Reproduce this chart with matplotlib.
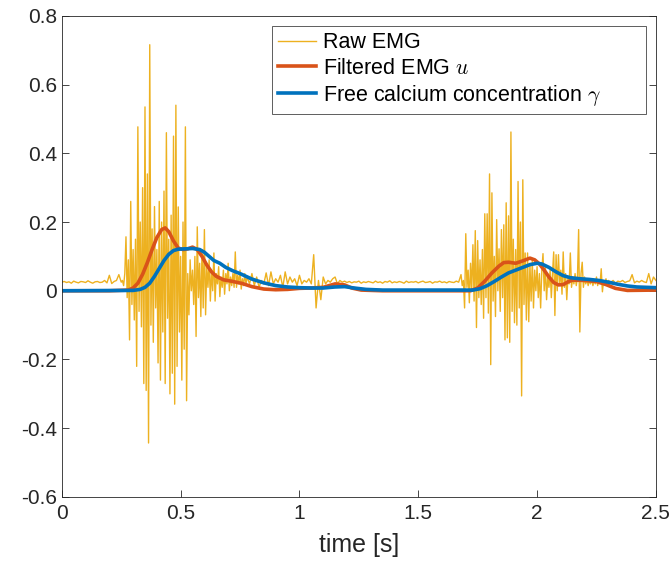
import numpy as np
import matplotlib
matplotlib.use('Agg')
import matplotlib.pyplot as plt

plt.rcParams['font.family'] = ['Liberation Sans', 'DejaVu Sans']
plt.rcParams['axes.unicode_minus'] = False
plt.rcParams['mathtext.fontset'] = 'cm'

# Raw EMG: quiet start, 0.00 .. 0.24 s (step 0.01)
raw_t0 = np.arange(25) * 0.01
raw_v0 = [0.025, 0.027, 0.024, 0.026, 0.022, 0.028, 0.025, 0.023, 0.027, 0.026,
          0.024, 0.029, 0.025, 0.022, 0.026, 0.027, 0.024, 0.025, 0.030, 0.023,
          0.045, 0.021, 0.027, 0.030, 0.047]

# first burst, 0.25 .. 0.78 s (step 0.005)
raw_t1 = 0.25 + np.arange(107) * 0.005
raw_v1 = [0.025, 0.030, 0.015, 0.050, 0.157, -0.020, 0.090, -0.143, 0.260, -0.040,
          0.120, -0.085, 0.150, -0.220, 0.477, -0.060, 0.200, -0.105, 0.300, -0.270,
          0.535, -0.290, 0.340, -0.443, 0.716, -0.100, 0.180, -0.150, 0.245, -0.050,
          0.120, -0.210, 0.260, -0.260, 0.200, -0.120, 0.290, -0.270, 0.460, -0.080,
          0.150, -0.300, 0.220, -0.240, 0.450, -0.330, 0.540, -0.220, 0.244, -0.120,
          0.100, -0.260, 0.200, -0.170, 0.477, -0.320, 0.050, -0.070, 0.090, 0.000,
          0.060, -0.040, 0.100, -0.133, 0.186, -0.020, 0.080, -0.075, 0.120, -0.050,
          0.178, -0.070, 0.070, 0.010, 0.090, -0.030, 0.060, 0.000, 0.110, -0.030,
          0.050, 0.020, 0.070, -0.017, 0.040, 0.010, 0.060, -0.010, 0.050, 0.020,
          0.080, 0.000, 0.040, 0.015, 0.050, 0.010, 0.113, 0.010, 0.045, 0.020,
          0.060, 0.005, 0.035, 0.015, 0.050, 0.020, 0.040]

# between bursts, 0.79 .. 1.67 s (step 0.01)
raw_t2 = 0.79 + np.arange(89) * 0.01
raw_v2 = [0.020, 0.050, 0.015, 0.040, 0.010, 0.030, 0.020, 0.052, 0.015, 0.055,
          0.020, 0.035, 0.025, 0.045, 0.010, 0.055, 0.020, 0.040, 0.025, 0.035,
          0.015, 0.045, 0.020, 0.030, 0.025, 0.035, 0.020, 0.105, -0.050, 0.030,
          -0.026, 0.040, 0.020, 0.030, 0.025, 0.035, 0.040, 0.020, 0.030, 0.025,
          0.028, 0.024, 0.027, 0.023, 0.026, 0.025, 0.028, 0.022, 0.026, 0.024,
          0.027, 0.025, 0.023, 0.028, 0.024, 0.026, 0.022, 0.027, 0.025, 0.029,
          0.023, 0.026, 0.024, 0.027, 0.025, 0.022, 0.028, 0.024, 0.026, 0.025,
          0.027, 0.023, 0.026, 0.028, 0.024, 0.025, 0.027, 0.022, 0.026, 0.025,
          0.028, 0.024, 0.026, 0.023, 0.027, 0.025, 0.024, 0.028, 0.025]

# second burst, 1.68 .. 2.30 s (step 0.005)
raw_t3 = 1.68 + np.arange(125) * 0.005
raw_v3 = [0.047, 0.015, 0.030, -0.050, 0.166, 0.010, 0.060, -0.035, 0.080, 0.000,
          0.134, -0.030, 0.175, -0.107, 0.146, -0.020, 0.090, -0.040, 0.120, -0.080,
          0.224, -0.020, 0.224, -0.065, 0.340, -0.215, 0.285, -0.030, 0.100, -0.075,
          0.207, 0.000, 0.122, -0.060, 0.178, -0.020, 0.192, -0.143, 0.256, -0.137,
          0.218, -0.150, 0.462, -0.060, 0.150, -0.093, 0.120, -0.100, 0.318, -0.050,
          0.200, -0.306, 0.323, -0.040, 0.110, -0.085, 0.110, -0.090, 0.080, -0.030,
          0.090, -0.050, 0.060, 0.000, 0.070, -0.020, 0.050, -0.050, 0.060, 0.108,
          0.000, 0.070, -0.026, 0.040, 0.010, 0.060, -0.020, 0.050, 0.113, -0.072,
          0.105, 0.000, 0.105, 0.020, 0.060, -0.010, 0.113, 0.010, 0.050, -0.026,
          0.040, 0.020, 0.110, 0.010, 0.040, 0.020, 0.050, 0.015, 0.040, 0.178,
          -0.120, 0.050, 0.083, 0.010, 0.040, 0.020, 0.035, 0.015, 0.030, 0.020,
          0.035, 0.015, 0.030, 0.020, 0.040, 0.015, 0.030, 0.020, 0.064, -0.003,
          0.030, 0.020, 0.035, 0.020, 0.030]

# tail, 2.31 .. 2.50 s (step 0.01)
raw_t4 = 2.31 + np.arange(20) * 0.01
raw_v4 = [0.025, 0.030, 0.022, 0.028, 0.026, 0.030, 0.024, 0.027, 0.029, 0.047,
          0.023, 0.028, 0.025, 0.030, 0.026, 0.024, 0.050, 0.020, 0.040, 0.030]

# filtered EMG u
u_t = [0.00, 0.20, 0.28, 0.30, 0.32, 0.34, 0.36, 0.38, 0.40, 0.42, 0.435, 0.45,
       0.47, 0.49, 0.51, 0.53, 0.55, 0.57, 0.59, 0.61, 0.63, 0.65, 0.68, 0.72,
       0.76, 0.80, 0.85, 0.90, 0.95, 1.00, 1.05, 1.10, 1.15, 1.19, 1.22, 1.26,
       1.35, 1.72, 1.75, 1.78, 1.81, 1.84, 1.86, 1.88, 1.91, 1.94, 1.97, 1.99,
       2.01, 2.03, 2.05, 2.07, 2.09, 2.11, 2.13, 2.15, 2.20, 2.25, 2.29, 2.33,
       2.38, 2.50]
u_v = [0.000, 0.000, 0.002, 0.008, 0.022, 0.048, 0.082, 0.120, 0.155, 0.178, 0.183,
       0.172, 0.145, 0.124, 0.120, 0.122, 0.127, 0.120, 0.100, 0.075, 0.055, 0.042,
       0.032, 0.027, 0.021, 0.012, 0.005, 0.003, 0.004, 0.007, 0.008, 0.010, 0.020,
       0.017, 0.008, 0.002, 0.000, 0.000, 0.008, 0.028, 0.052, 0.072, 0.082, 0.083,
       0.080, 0.087, 0.095, 0.090, 0.078, 0.060, 0.040, 0.024, 0.017, 0.018, 0.026,
       0.031, 0.030, 0.027, 0.018, 0.007, 0.001, 0.002]

# free calcium concentration gamma
g_t = [0.00, 0.30, 0.33, 0.35, 0.37, 0.39, 0.41, 0.43, 0.45, 0.47, 0.49, 0.52,
       0.55, 0.58, 0.60, 0.62, 0.64, 0.665, 0.69, 0.72, 0.75, 0.80, 0.85, 0.90,
       0.95, 1.00, 1.05, 1.10, 1.15, 1.19, 1.23, 1.28, 1.35, 1.73, 1.76, 1.79,
       1.82, 1.85, 1.88, 1.91, 1.94, 1.97, 2.00, 2.02, 2.05, 2.08, 2.11, 2.14,
       2.18, 2.22, 2.26, 2.30, 2.34, 2.38, 2.42, 2.50]
g_v = [0.000, 0.001, 0.004, 0.010, 0.022, 0.042, 0.065, 0.088, 0.106, 0.117, 0.121,
       0.122, 0.123, 0.120, 0.112, 0.100, 0.088, 0.080, 0.068, 0.058, 0.050, 0.034,
       0.023, 0.015, 0.011, 0.009, 0.008, 0.008, 0.011, 0.012, 0.008, 0.004, 0.002,
       0.002, 0.006, 0.015, 0.027, 0.040, 0.052, 0.060, 0.068, 0.076, 0.080, 0.078,
       0.068, 0.055, 0.044, 0.038, 0.035, 0.033, 0.030, 0.025, 0.019, 0.014, 0.011,
       0.009]

raw_t = np.concatenate([raw_t0, raw_t1, raw_t2, raw_t3, raw_t4])
raw_v = np.concatenate([raw_v0, raw_v1, raw_v2, raw_v3, raw_v4])

fig = plt.figure(figsize=(6.72, 5.66), dpi=100)
ax = fig.add_axes([0.092, 0.122, 0.884, 0.850])

ax.plot(raw_t, raw_v, color='#EDB120', linewidth=1.0, label='Raw EMG')
ax.plot(u_t, u_v, color='#D95319', linewidth=2.6, label='Filtered EMG $u$')
ax.plot(g_t, g_v, color='#0072BD', linewidth=2.6, label=r'Free calcium concentration $\gamma$')

ax.set_xlim(0, 2.5)
ax.set_ylim(-0.6, 0.8)
ax.set_xticks([0, 0.5, 1, 1.5, 2, 2.5])
ax.set_xticklabels(['0', '0.5', '1', '1.5', '2', '2.5'])
ax.set_yticks(np.arange(-0.6, 0.81, 0.2))
ax.set_yticklabels(['-0.6', '-0.4', '-0.2', '0', '0.2', '0.4', '0.6', '0.8'])
ax.tick_params(direction='in', length=5, width=0.6, labelsize=15, colors='#262626',
               top=False, right=True)
ax.tick_params(axis='x', pad=5)
for s in ax.spines.values():
    s.set_linewidth(0.6)
    s.set_color('#262626')
ax.set_xlabel('time [s]', fontsize=18, color='#262626', labelpad=7)

# legend box spans x 272..646 px, y 26..110 px in the reference
leg = ax.legend(loc='upper left', mode='expand', bbox_to_anchor=(0.3535, 0.809, 0.6296, 0.17),
                fontsize=15.5, handlelength=1.75, handletextpad=0.35,
                borderpad=0.3, labelspacing=0.2, fancybox=False, framealpha=1,
                edgecolor='#444444', borderaxespad=0.0)
leg.get_frame().set_linewidth(0.6)

fig.savefig('out.png', dpi=100)
